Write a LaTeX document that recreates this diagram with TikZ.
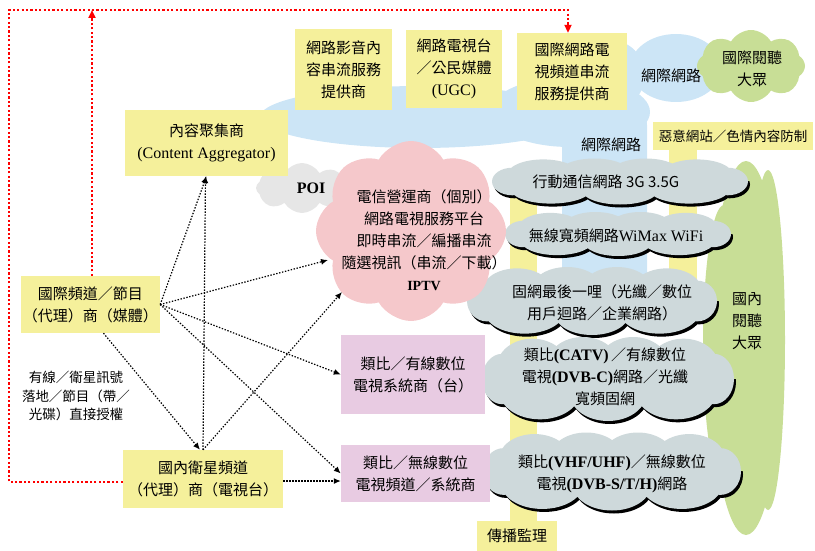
\documentclass[tikz,border=0pt]{standalone}
\usepackage{fontspec}
\setmainfont{Noto Sans CJK TC}
\newfontfamily\tnr{Liberation Serif}
\usetikzlibrary{shapes.symbols,arrows.meta}
\definecolor{yel}{HTML}{F5F09B}
\definecolor{blu}{HTML}{CCE5F6}
\definecolor{pnk}{HTML}{F5C8CB}
\definecolor{lav}{HTML}{E8CBE2}
\definecolor{gry}{HTML}{CED9DB}
\definecolor{poig}{HTML}{E6E6E6}
\definecolor{grn}{HTML}{C8DE96}
\newcommand\lat[1]{{\tnr\fontsize{16}{22}\selectfont #1}}
\newcommand\latb[1]{{\tnr\bfseries\fontsize{16}{22}\selectfont #1}}
\tikzset{
  txt/.style={align=center, inner sep=0pt, font=\fontsize{15}{22}\selectfont},
  stxt/.style={align=center, inner sep=0pt, font=\fontsize{13.5}{18.5}\selectfont},
  ybox/.style={rectangle, fill=yel, txt},
  lbox/.style={rectangle, fill=lav, txt},
  softcloud/.style={cloud, cloud puffs=8, cloud puff arc=120, cloud ignores aspect, inner sep=0pt},
  darr/.style={line width=1.2pt, dash pattern=on 1.4pt off 1.6pt, -{Latex[length=7pt,width=6pt]}},
  reddot/.style={draw=red, line width=2.2pt, dash pattern=on 2.2pt off 2.2pt},
  redtip/.style={-{Triangle[length=8pt,width=7pt]}}
}
% cloud made of overlapping ellipses: colour, cx, cy, w, h
\newcommand\cloudfill[5]{%
  \fill[#1] (#2,#3) ellipse [x radius={0.45*#4}, y radius={0.3*#5}]
    (#2-0.42*#4,#3) ellipse [x radius={0.08*#4}, y radius={0.3*#5}]
    (#2+0.42*#4,#3) ellipse [x radius={0.08*#4}, y radius={0.3*#5}]
    (#2-0.3*#4,#3-0.15*#5) ellipse [x radius={0.14*#4}, y radius={0.33*#5}]
    (#2-0.1*#4,#3-0.18*#5) ellipse [x radius={0.14*#4}, y radius={0.32*#5}]
    (#2+0.1*#4,#3-0.17*#5) ellipse [x radius={0.14*#4}, y radius={0.33*#5}]
    (#2+0.3*#4,#3-0.15*#5) ellipse [x radius={0.14*#4}, y radius={0.33*#5}]
    (#2-0.27*#4,#3+0.15*#5) ellipse [x radius={0.16*#4}, y radius={0.33*#5}]
    (#2,#3+0.18*#5) ellipse [x radius={0.15*#4}, y radius={0.32*#5}]
    (#2+0.27*#4,#3+0.15*#5) ellipse [x radius={0.16*#4}, y radius={0.33*#5}];}
\newcommand\graycloud[4]{%
  \begin{scope}
    \clip (#1-#3,#2) rectangle (#1+#3,#2+#4);
    \cloudfill{black}{#1+2}{#2+3}{#3}{#4}
  \end{scope}
  \cloudfill{gry}{#1}{#2}{#3}{#4}}
\begin{document}
\begin{tikzpicture}[x=1pt,y=-1pt]
\useasboundingbox (0,0) rectangle (815,551);
% blue internet area
\fill[blu] (420,117) ellipse [x radius=160, y radius=31];
\fill[blu] (570,112) ellipse [x radius=80, y radius=35];
\fill[blu] (610,75) ellipse [x radius=35, y radius=35];
\fill[blu] (676,68) ellipse [x radius=46, y radius=34];
\fill[blu, rounded corners=25pt] (562,100) rectangle (647,300);
% yellow bars
\fill[yel] (510,175) rectangle (537,521);
\fill[yel] (669,150) rectangle (697,300);
% green domestic audience
\fill[grn] (746,348) ellipse [x radius=36, y radius=187];
\fill[grn] (724,345) ellipse [x radius=21, y radius=140];
\fill[grn] (768,340) ellipse [x radius=17, y radius=170];
% international audience cloud
\node[softcloud, fill=grn, minimum width=108pt, minimum height=72pt] (intaud) at (751,66) {};
\node[txt] (intaudt) at (752,69) {國際閱聽\\大眾};
\node[txt] (net1) at (671,76) {網際網路};
\node[txt] (net2) at (611,145) {網際網路};
% gray network clouds
\graycloud{620}{181.5}{256}{46}
\graycloud{618}{234}{226}{44}
\graycloud{592}{301}{250}{68}
\graycloud{608}{379}{252}{84}
\graycloud{612}{471.5}{258}{78}
\node[txt] (c1t) at (606,182) {行動通信網路 3G 3.5G};
\node[txt] (c2t) at (616,236) {無線寬頻網路\lat{WiMax WiFi}};
\node[txt] (c3t) at (602,302.5) {固網最後一哩（光纖／數位\\用戶迴路／企業網路）};
\node[txt] (c4t) at (605,376.5) {類比\latb{(CATV)}\,／有線數位\\電視\latb{(DVB-C)}網路／光纖\\寬頻固網};
\node[txt] (c5t) at (612,474) {類比\latb{(VHF/UHF)}／無線數位\\電視\latb{(DVB-S/T/H)}網路};
% POI and IPTV clouds
\node[softcloud, fill=poig, minimum width=92pt, minimum height=50pt] (poi) at (302,188) {};
\node[txt] (poit) at (311,188) {\latb{POI}};
\node[softcloud, fill=pnk, minimum width=190pt, minimum height=180pt] (iptv) at (411,231) {};
\node[txt] (iptvt) at (424,240) {電信營運商（個別）\\網路電視服務平台\\即時串流／編播串流\\隨選視訊（串流／下載）\\{\tnr\bfseries\fontsize{14}{22}\selectfont IPTV}};
% yellow boxes
\node[ybox, minimum width=97pt, minimum height=81pt] (b1) at (343.5,69.5) {網路影音內\\容串流服務\\提供商};
\node[ybox, minimum width=96pt, minimum height=78pt] (b2) at (454,69) {網路電視台\\／公民媒體\\\lat{(UGC)}};
\node[ybox, minimum width=110pt, minimum height=77pt] (b3) at (572,71.5) {國際網路電\\視頻道串流\\服務提供商};
\node[ybox, minimum width=163pt, minimum height=66pt] (ca) at (206.5,143) {內容聚集商\\\lat{(Content Aggregator)}};
\node[ybox, minimum width=139pt, minimum height=57pt] (intl) at (90.5,304.5) {國際頻道／節目\\（代理）商（媒體）};
\node[ybox, minimum width=160pt, minimum height=58pt] (dom) at (203,479) {國內衛星頻道\\（代理）商（電視台）};
\node[ybox, stxt, minimum width=160pt, minimum height=28pt] (mal) at (733,136) {惡意網站／色情內容防制};
\node[ybox, minimum width=80pt, minimum height=30pt] (sup) at (517,536) {傳播監理};
\node[txt] (domaud) at (747,321) {國內\\閱聽\\大眾};
% lavender boxes
\node[lbox, minimum width=144pt, minimum height=79pt] (cab) at (413,374.5) {類比／有線數位\\電視系統商（台）};
\node[lbox, minimum width=149pt, minimum height=57pt] (ter) at (415.5,473.5) {類比／無線數位\\電視頻道／系統商};
% side label
\node[stxt] (lbl) at (76,396) {有線／衛星訊號\\落地／節目（帶／\\光碟）直接授權};
% dotted black arrows
\coordinate (p1) at (328,260);
\coordinate (p2) at (342,292);
\draw[darr] (intl.east) -- (ca.south);
\draw[darr] (intl.east) -- (p1);
\draw[darr] (intl.east) -- (cab.west);
\draw[darr] (intl.east) -- (ter.west);
\draw[darr] ([xshift=13pt]intl.south) -- ([xshift=-3pt]dom.north);
\draw[darr] (dom.north) -- ([xshift=-1pt]ca.south);
\draw[darr] (dom.north) -- (p2);
\draw[darr] ([yshift=-2pt]dom.east) -- ([yshift=-2pt]dom.east -| ter.west);
% red dotted loop
\coordinate (topl) at (9,10);
\coordinate (topr) at (568,10);
\draw[reddot, redtip] ([yshift=-3pt]dom.west) -| (topl) -- (topr) -- ([xshift=-4pt]b3.north);
\draw[reddot, redtip] ([xshift=1.5pt]intl.north) -- ([xshift=1.5pt]intl.north |- topl);
\end{tikzpicture}
\end{document}
